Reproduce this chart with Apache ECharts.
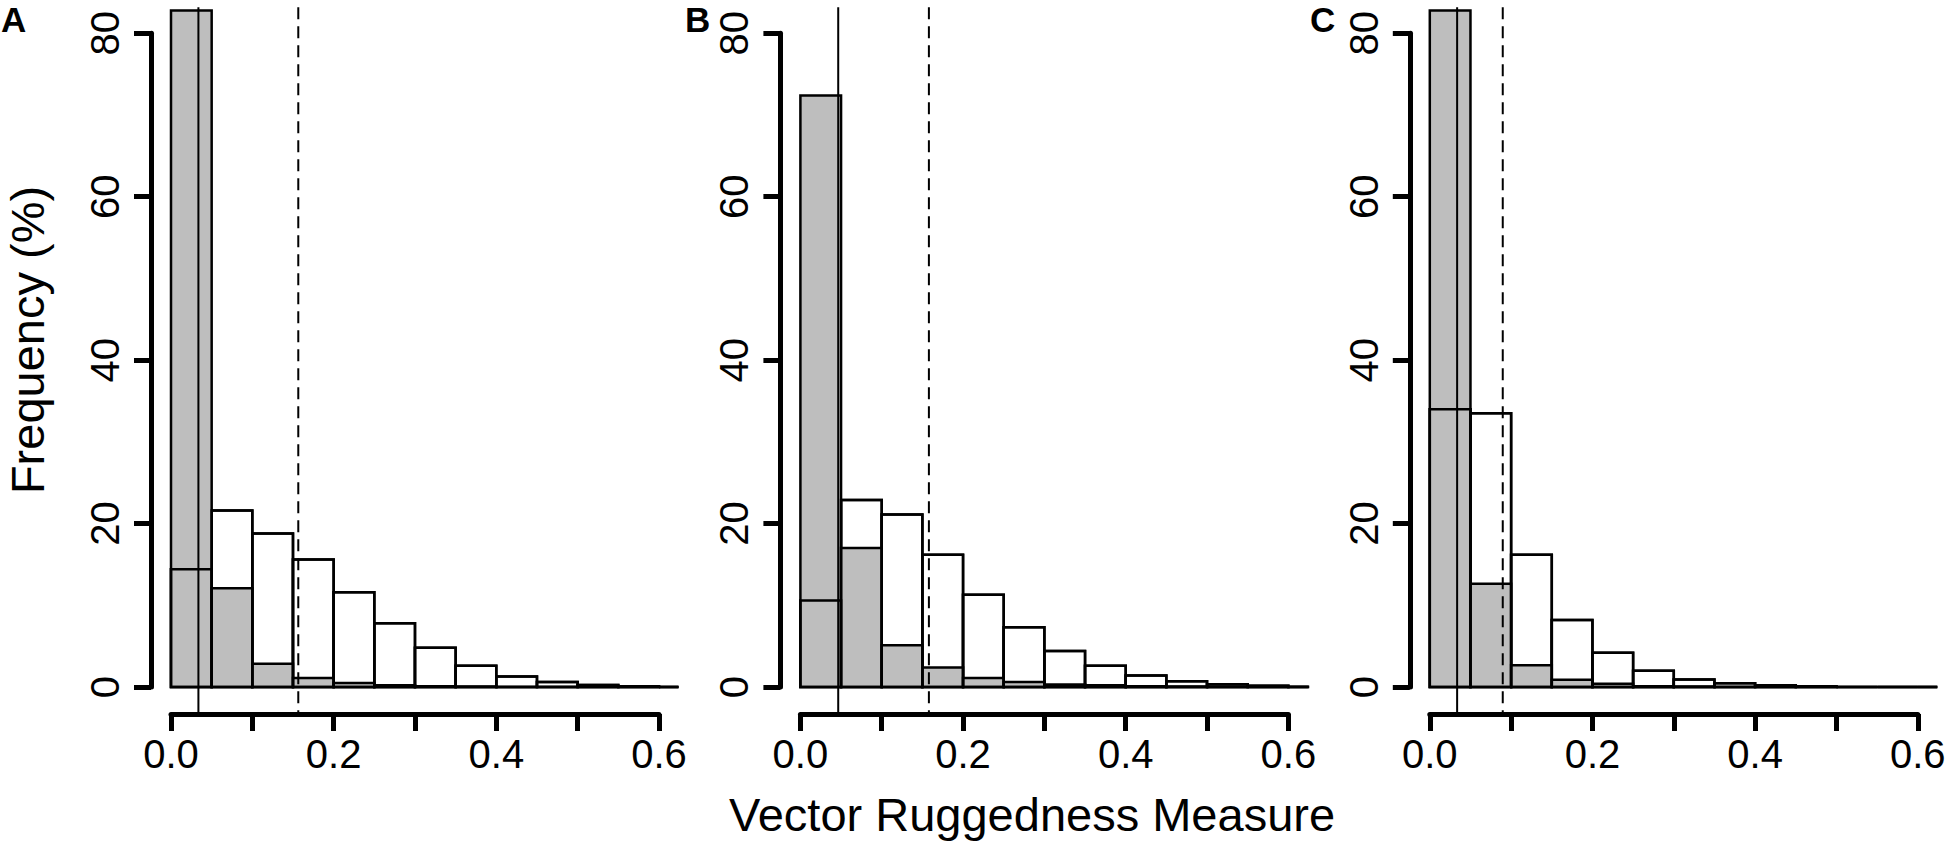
<!DOCTYPE html>
<html>
<head>
<meta charset="utf-8">
<title>Vector Ruggedness Measure</title>
<script src="https://cdn.jsdelivr.net/npm/echarts@6/dist/echarts.min.js"></script>
<style>
html, body { margin: 0; padding: 0; background: #fff; }
#main { width: 1950px; height: 843px; }
</style>
</head>
<body>
<div id="main"></div>
<script>
// histogram bins (0.05 wide); the last one is cut by the plot edge
var binStarts = [0, 0.05, 0.1, 0.15, 0.2, 0.25, 0.3, 0.35, 0.4, 0.45, 0.5, 0.55, 0.6];
var binWidth = 0.05;

var panelNames = ['A', 'B', 'C'];

// white (outlined) histograms, % per bin
var whiteA = [14.4, 21.6, 18.8, 15.6, 11.6, 7.8, 4.8, 2.6, 1.3, 0.6, 0.25, 0.08, 0];
var whiteB = [10.6, 22.9, 21.1, 16.2, 11.3, 7.3, 4.4, 2.6, 1.4, 0.7, 0.33, 0.15, 0.02];
var whiteC = [34.0, 33.5, 16.2, 8.2, 4.2, 2.0, 0.93, 0.45, 0.2, 0.08, 0, 0, 0];

// grey histograms, % per bin
var greyA = [82.8, 12.1, 2.85, 1.1, 0.5, 0.2, 0.1, 0.05, 0, 0, 0, 0, 0];
var greyB = [72.4, 17.0, 5.1, 2.4, 1.1, 0.6, 0.3, 0.2, 0.1, 0.05, 0, 0, 0];
var greyC = [82.8, 12.65, 2.65, 0.9, 0.4, 0.1, 0.05, 0, 0, 0, 0, 0, 0];

// vertical reference lines
var solidLines = [0.0337, 0.0465, 0.0336];
var dashedLines = [0.1565, 0.158, 0.0897];

var xTickLabels = ['0.0', '0.2', '0.4', '0.6'];
var yTicks = [0, 20, 40, 60, 80];

var whiteAll = [whiteA, whiteB, whiteC];
var greyAll = [greyA, greyB, greyC];

//layout (px)
var FONT = '"Liberation Sans", Arial, Helvetica, sans-serif';
var zeroX = [171, 800.4, 1429.8];
var pxPerX = 813.3;
var y0px = 687, y80px = 33.3;
var pxPerY = (y0px - y80px) / 80;
var xPad = 0.024, yPad = 3.2;   // R style 4% range extension

var grids = [], xAxes = [], yAxes = [], series = [];

function histSeries(p, values, fill){
	return {
		type: 'custom',
		xAxisIndex: p * 3,
		yAxisIndex: p * 3,
		silent: true,
		animation: false,
		data: binStarts.map(function(s, i){ return [s, s + binWidth, values[i]]; }),
		renderItem: function(params, api){
			var a = api.coord([api.value(0), 0]);
			var b = api.coord([api.value(1), api.value(2)]);
			var cs = params.coordSys;
			var shape = echarts.graphic.clipRectByRect(
				{x: a[0], y: b[1], width: b[0] - a[0], height: a[1] - b[1]},
				{x: cs.x, y: cs.y, width: cs.width, height: cs.height});
			if(!shape) return;
			return {type: 'rect', shape: shape, style: {fill: fill, stroke: '#000', lineWidth: 2.5}};
		}
	};
}

for(var p = 0; p < 3; p++){
	var x0 = zeroX[p];
	var left = x0 - xPad * pxPerX;
	// main plot region
	grids.push({left: left, top: y0px - (80 + yPad) * pxPerY, width: (0.6 + 2 * xPad) * pxPerX, height: (80 + 2 * yPad) * pxPerY, containLabel: false});
	xAxes.push({type: 'value', gridIndex: p * 3, min: -xPad, max: 0.6 + xPad, show: false});
	yAxes.push({type: 'value', gridIndex: p * 3, min: -yPad, max: 80 + yPad, show: false});
	// x axis (0 .. 0.6)
	grids.push({left: x0, top: y0px - (80 + yPad) * pxPerY, width: 0.6 * pxPerX, height: (80 + yPad) * pxPerY + 27, containLabel: false});
	xAxes.push({
		type: 'value', gridIndex: p * 3 + 1, min: 0, max: 0.6, interval: 0.1, position: 'bottom',
		axisLine: {show: true, lineStyle: {color: '#000', width: 5}},
		axisTick: {show: true, length: 17, lineStyle: {color: '#000', width: 5}},
		splitLine: {show: false},
		axisLabel: {
			color: '#000', fontSize: 40, fontFamily: FONT, margin: 20,
			formatter: function(v){
				var k = Math.round(v * 10);
				return k % 2 === 0 ? xTickLabels[k / 2] : '';
			}
		}
	});
	yAxes.push({type: 'value', gridIndex: p * 3 + 1, min: 0, max: 1, show: false});
	// y axis (0 .. 80)
	grids.push({left: x0 - 20, top: y80px, width: 60, height: y0px - y80px, containLabel: false});
	xAxes.push({type: 'value', gridIndex: p * 3 + 2, min: 0, max: 1, show: false});
	yAxes.push({
		type: 'value', gridIndex: p * 3 + 2, min: yTicks[0], max: yTicks[yTicks.length - 1], interval: 20, position: 'left',
		axisLine: {show: true, lineStyle: {color: '#000', width: 5}},
		axisTick: {show: true, length: 17, lineStyle: {color: '#000', width: 5}},
		splitLine: {show: false},
		axisLabel: {color: '#000', fontSize: 40, fontFamily: FONT, rotate: 90, margin: 26}
	});

	series.push(histSeries(p, whiteAll[p], '#fff'));
	series.push(histSeries(p, greyAll[p], '#bebebe'));
	series.push(histSeries(p, whiteAll[p], 'none'));
	series.push({
		type: 'custom',
		xAxisIndex: p * 3,
		yAxisIndex: p * 3,
		silent: true,
		animation: false,
		data: [[solidLines[p], 0], [dashedLines[p], 1]],
		renderItem: function(params, api){
			var x = api.coord([api.value(0), 0])[0];
			var cs = params.coordSys;
			return {
				type: 'line',
				shape: {x1: x, y1: cs.y, x2: x, y2: cs.y + cs.height},
				style: {stroke: '#000', lineWidth: 2, lineDash: api.value(1) ? [12, 7] : null}
			};
		}
	});
}

var letterX = [1, 685, 1310];
var graphic = [
	{type: 'text', x: 27, y: 340, rotation: Math.PI / 2,
		style: {text: 'Frequency (%)', font: '47px ' + FONT, fill: '#000', align: 'center', verticalAlign: 'middle', textAlign: 'center', textVerticalAlign: 'middle'}},
	{type: 'text', x: 1032, y: 814,
		style: {text: 'Vector Ruggedness Measure', font: '47px ' + FONT, fill: '#000', align: 'center', verticalAlign: 'middle', textAlign: 'center', textVerticalAlign: 'middle'}}
];
panelNames.forEach(function(n, i){
	graphic.push({type: 'text', x: letterX[i], y: 19,
		style: {text: n, font: 'bold 35px ' + FONT, fill: '#000', align: 'left', verticalAlign: 'middle', textAlign: 'left', textVerticalAlign: 'middle'}});
});

var option = {
	backgroundColor: '#fff',
	animation: false,
	grid: grids,
	xAxis: xAxes,
	yAxis: yAxes,
	series: series,
	graphic: graphic
};

var myChart = echarts.init(document.getElementById('main'), null, {renderer: 'svg'});
myChart.setOption(option);
</script>
</body>
</html>
